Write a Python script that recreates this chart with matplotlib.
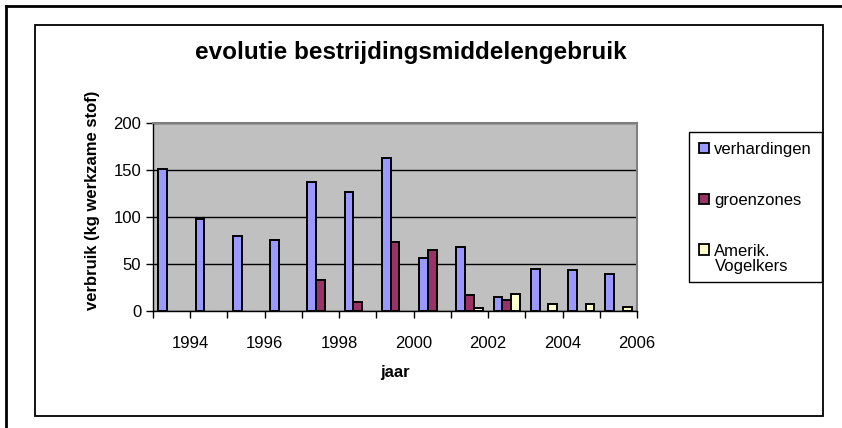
import numpy as np
import matplotlib.pyplot as plt
from matplotlib.patches import Rectangle
from matplotlib.lines import Line2D

plt.rcParams['font.family'] = ['Liberation Sans', 'DejaVu Sans']

years = [1993, 1994, 1995, 1996, 1997, 1998, 1999, 2000, 2001, 2002, 2003, 2004, 2005]
verhardingen = [151, 98, 80, 75.5, 137, 127, 163, 56, 68, 14.5, 45, 44, 39]
groenzones = [0, 0, 0, 0, 33, 10, 73, 65, 17, 12, 0, 0, 0]
vogelkers = [0, 0, 0, 0, 0, 0, 0, 0, 3.5, 18, 7.4, 7, 4.3]

series = [
    ("verhardingen", verhardingen, "#9999FF"),
    ("groenzones", groenzones, "#993366"),
    ("Amerik.", vogelkers, "#FFFFCC"),
]

W, H = 842, 428
fig = plt.figure(figsize=(W / 100, H / 100), dpi=100)

# outer frame (top and left lines) and chart border
fig.add_artist(Line2D([6 / W, 1], [1 - 6 / H, 1 - 6 / H], color="black", lw=2, transform=fig.transFigure))
fig.add_artist(Line2D([6 / W, 6 / W], [0, 1 - 6 / H], color="black", lw=2, transform=fig.transFigure))
fig.add_artist(Rectangle((35 / W, 1 - 416 / H), (823 - 35) / W, (416 - 25) / H,
                         transform=fig.transFigure, fill=False, ec="black", lw=1.3))

ax = fig.add_axes([153 / W, 1 - 311 / H, (637 - 153) / W, (311 - 123) / H])
ax.set_facecolor("#C0C0C0")

bw = 0.235
x = np.array(years, dtype=float)
for i, (name, vals, col) in enumerate(series):
    vals = np.array(vals, dtype=float)
    m = vals > 0
    pos = x + 0.5 + (i - 1) * bw
    ax.bar(pos[m], vals[m], width=bw, color=col, edgecolor="black", lw=1.4, zorder=3)

ax.set_xlim(1993, 2006)
ax.set_ylim(0, 200)
ax.set_yticks([0, 50, 100, 150, 200])
ax.set_xticks(range(1994, 2007, 2))
ax.set_xticks(range(1993, 2007), minor=True)
ax.yaxis.grid(True, color="black", lw=1, zorder=1)
ax.tick_params(axis="both", which="both", direction="out", length=5, width=1, labelsize=12)
ax.tick_params(axis="x", pad=13)

for s in ["top", "right"]:
    ax.spines[s].set_color("#808080")
    ax.spines[s].set_linewidth(1.5)
for s in ["left", "bottom"]:
    ax.spines[s].set_color("black")
    ax.spines[s].set_linewidth(1)

ax.set_xlabel("jaar", fontsize=12, fontweight="bold", labelpad=10)
fig.text(92 / W, 1 - 200 / H, "verbruik (kg werkzame stof)", rotation=90,
         ha="center", va="center", fontsize=12, fontweight="bold")
fig.text(411 / W, 1 - 52 / H, "evolutie bestrijdingsmiddelengebruik",
         ha="center", va="center", fontsize=17.5, fontweight="bold")

# legend box drawn by hand so the two-line last entry fits like the original
fig.add_artist(Rectangle((689 / W, 1 - 282 / H), (822 - 689) / W, (282 - 132) / H,
                         transform=fig.transFigure, fc="white", ec="black", lw=1, zorder=4))
handles = [Rectangle((0, 0), 1, 1, fc=c, ec="black", lw=1.3) for _, _, c in series]
leg = fig.legend(handles, [n for n, _, _ in series], loc="upper left",
                 bbox_to_anchor=(689 / W, 1 - 132 / H), fontsize=12,
                 frameon=False, borderpad=0.6, labelspacing=2.15,
                 handlelength=0.6, handleheight=0.6, handletextpad=0.3, borderaxespad=0)
leg.set_zorder(5)
fig.text(715 / W, 1 - 266 / H, "Vogelkers", ha="left", va="center", fontsize=12, zorder=6)

fig.savefig("out.png", dpi=100)
